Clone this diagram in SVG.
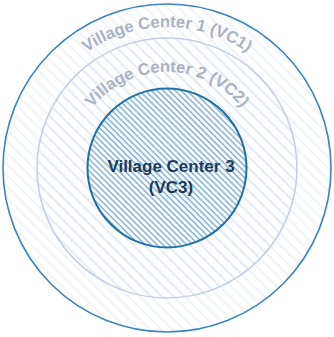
<svg xmlns="http://www.w3.org/2000/svg" width="334" height="337" viewBox="0 0 334 337">
  <style>
    .ring-label { font-family: "Liberation Sans", Arial, sans-serif; font-weight: bold; font-size: 16.5px; fill: #a9b3c3; }
    .core-label { font-family: "Liberation Sans", Arial, sans-serif; font-weight: bold; font-size: 17px; fill: #1c3b5a; text-anchor: middle; }
  </style>
  <defs>
    <pattern id="hatchOuter" width="8" height="8" patternUnits="userSpaceOnUse" patternTransform="rotate(-45)">
      <line x1="1" y1="0" x2="1" y2="8" stroke="#f0f4f9" stroke-width="1.8"/>
    </pattern>
    <pattern id="hatchMiddle" width="8" height="8" patternUnits="userSpaceOnUse" patternTransform="rotate(-45)">
      <line x1="1" y1="0" x2="1" y2="8" stroke="#e4ebf4" stroke-width="1.8"/>
    </pattern>
    <pattern id="hatchInner" width="4.2" height="4.2" patternUnits="userSpaceOnUse" patternTransform="rotate(-45)">
      <line x1="1" y1="0" x2="1" y2="4.2" stroke="#80b1d6" stroke-width="1.5"/>
    </pattern>
    <path id="arcVC1" d="M 26 168 A 141 141 0 0 1 308 168"/>
    <path id="arcVC2" d="M 71 168 A 96 96 0 0 1 263 168"/>
  </defs>
  <rect width="334" height="337" fill="#ffffff"/>
  <g id="vc1">
    <circle cx="167" cy="168" r="164" fill="url(#hatchOuter)" stroke="#3b84c0" stroke-width="1.6"/>
    <text class="ring-label"><textPath href="#arcVC1" startOffset="50%" text-anchor="middle">Village Center 1 (VC1)</textPath></text>
  </g>
  <g id="vc2">
    <circle cx="167" cy="168" r="130" fill="url(#hatchMiddle)" stroke="#c2d1e6" stroke-width="1.6"/>
    <text class="ring-label"><textPath href="#arcVC2" startOffset="50%" text-anchor="middle">Village Center 2 (VC2)</textPath></text>
  </g>
  <g id="vc3">
    <circle cx="167" cy="168" r="79.5" fill="#ffffff"/>
    <circle cx="167" cy="168" r="79.5" fill="url(#hatchInner)" stroke="#1f70a8" stroke-width="2"/>
    <text class="core-label" x="171" y="172">Village Center 3</text>
    <text class="core-label" x="171" y="193">(VC3)</text>
  </g>
  <g id="connectors"/>
</svg>
